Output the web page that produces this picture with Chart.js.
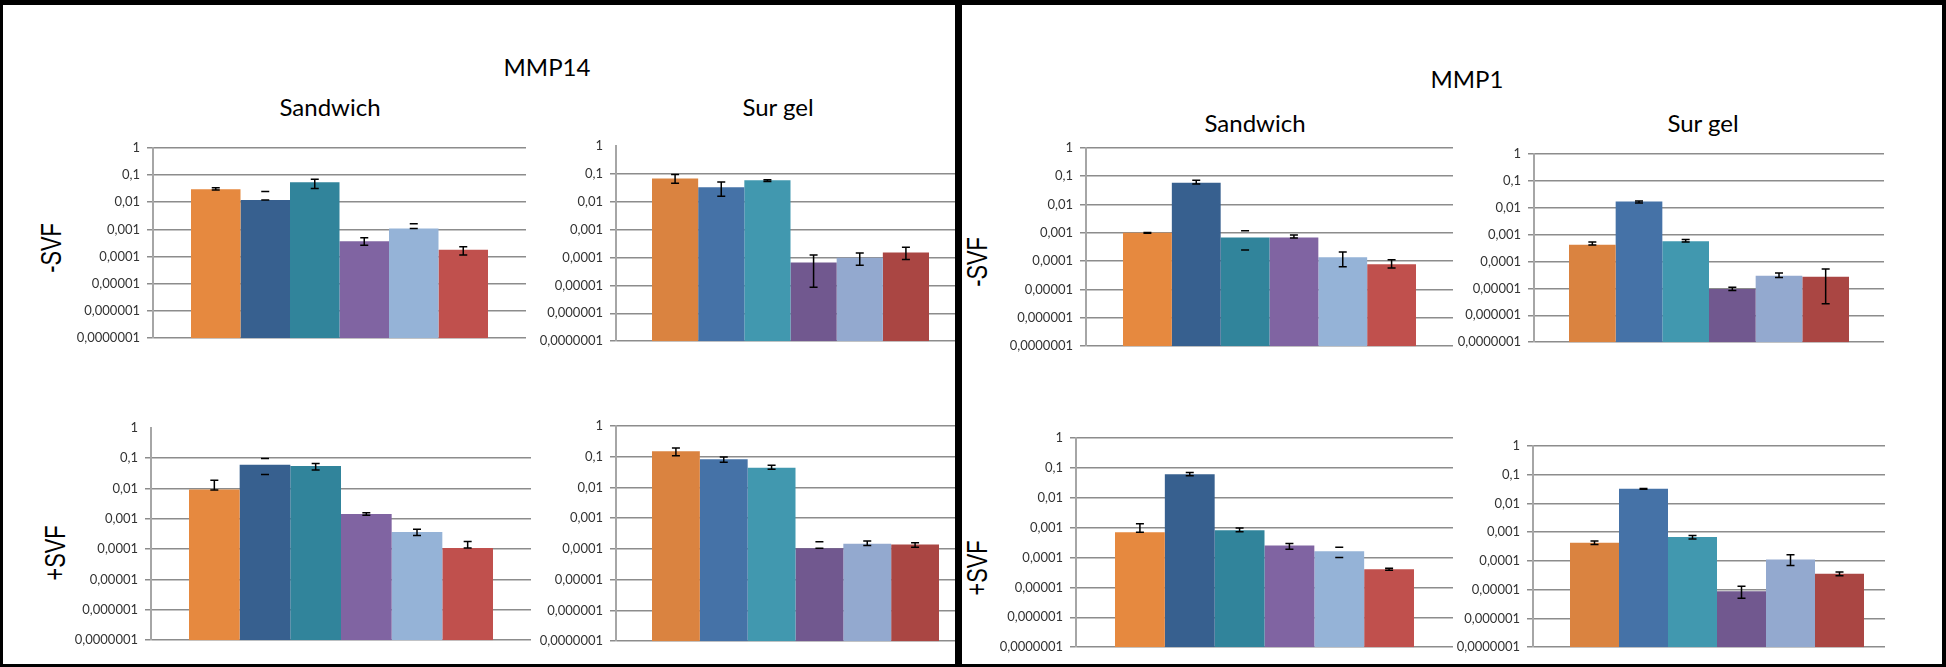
<!DOCTYPE html>
<html>
<head>
<meta charset="utf-8">
<script src="https://cdn.jsdelivr.net/npm/chart.js@4.4.1/dist/chart.umd.min.js"></script>
<style>
  body { margin: 0; width: 1946px; height: 667px; background: #fff; position: relative; overflow: hidden; font-family: Lato, "Open Sans", sans-serif; }
  .clip { position: absolute; overflow: hidden; }
  .clip canvas { position: absolute; left: 0; top: 0; }
  .title { position: absolute; transform: translate(-50%, -50%); font-size: 24px; color: #000; white-space: nowrap; }
  .side { position: absolute; font-family: "Liberation Sans", Arial, sans-serif; font-size: 29px; color: #000; white-space: nowrap;
          transform: translate(-50%, -50%) rotate(-90deg) scaleX(0.75); }
  .edge { position: absolute; background: #000; z-index: 5; }
</style>
</head>
<body>

<div class="title" style="left:547px;top:66px">MMP14</div>
<div class="title" style="left:330px;top:106px">Sandwich</div>
<div class="title" style="left:778px;top:106px">Sur gel</div>
<div class="title" style="left:1467px;top:78px">MMP1</div>
<div class="title" style="left:1255px;top:122px">Sandwich</div>
<div class="title" style="left:1703px;top:122px">Sur gel</div>

<div class="side" style="left:51px;top:248px">-SVF</div>
<div class="side" style="left:55px;top:553px">+SVF</div>
<div class="side" style="left:977px;top:262px">-SVF</div>
<div class="side" style="left:977px;top:568px">+SVF</div>

<div class="edge" style="left:0;top:0;width:1946px;height:5px"></div>
<div class="edge" style="left:0;top:664px;width:1946px;height:3px"></div>
<div class="edge" style="left:0;top:0;width:3px;height:667px"></div>
<div class="edge" style="left:955px;top:0;width:7px;height:667px"></div>
<div class="edge" style="left:1942px;top:0;width:4px;height:667px"></div>

<script>
// axe log commun
const tickValues = [1, 0.1, 0.01, 0.001, 0.0001, 0.00001, 0.000001, 0.0000001];
const tickLabels = ["1", "0,1", "0,01", "0,001", "0,0001", "0,00001", "0,000001", "0,0000001"];
const seriesNames = ["Série 1", "Série 2", "Série 3", "Série 4", "Série 5", "Série 6"];

// MMP14 - Sandwich - SVF
const mmp14SandMinus = [0.03, 0.012, 0.054, 0.00037, 0.00107, 0.000178];
const mmp14SandMinusLow = [0.028, 0.012, 0.032, 0.00026, 0.00107, 0.000115];
const mmp14SandMinusHigh = [0.034, 0.0245, 0.07, 0.00049, 0.00163, 0.00023];
// MMP14 - Sur gel - SVF
const mmp14GelMinus = [0.068, 0.033, 0.058, 0.000066, 0.0000977, 0.000152];
const mmp14GelMinusLow = [0.046, 0.0156, 0.053, 0.0000086, 0.000053, 0.000085];
const mmp14GelMinusHigh = [0.093, 0.051, 0.061, 0.000123, 0.000145, 0.00023];
// MMP14 - Sandwich + SVF
const mmp14SandPlus = [0.0093, 0.06, 0.055, 0.00144, 0.00037, 0.00011];
const mmp14SandPlusLow = [0.0089, 0.029, 0.041, 0.0013, 0.00028, 0.00011];
const mmp14SandPlusHigh = [0.0187, 0.098, 0.066, 0.0016, 0.00045, 0.000179];
// MMP14 - Sur gel + SVF
const mmp14GelPlus = [0.149, 0.082, 0.043, 0.000105, 0.000148, 0.000138];
const mmp14GelPlusLow = [0.107, 0.065, 0.039, 0.000105, 0.000128, 0.000113];
const mmp14GelPlusHigh = [0.19, 0.097, 0.052, 0.00017, 0.000179, 0.000158];
// MMP1 - Sandwich - SVF
const mmp1SandMinus = [0.001, 0.059, 0.00069, 0.00069, 0.000138, 0.000078];
const mmp1SandMinusLow = [0.00097, 0.053, 0.00025, 0.00066, 0.000064, 0.000057];
const mmp1SandMinusHigh = [0.00103, 0.072, 0.00118, 0.00083, 0.00021, 0.000112];
// MMP1 - Sur gel - SVF
const mmp1GelMinus = [0.00042, 0.017, 0.00056, 0.0000094, 0.0000293, 0.000027];
const mmp1GelMinusLow = [0.00041, 0.0148, 0.00053, 0.0000083, 0.0000256, 0.0000027];
const mmp1GelMinusHigh = [0.00053, 0.0177, 0.00065, 0.000011, 0.0000372, 0.0000522];
// MMP1 - Sandwich + SVF
const mmp1SandPlus = [0.00069, 0.061, 0.00081, 0.00025, 0.000162, 0.0000407];
const mmp1SandPlusLow = [0.00069, 0.054, 0.00072, 0.000187, 0.0001, 0.0000372];
const mmp1SandPlusHigh = [0.00133, 0.069, 0.00096, 0.00029, 0.00022, 0.0000437];
// MMP1 - Sur gel + SVF
const mmp1GelPlus = [0.00043, 0.032, 0.00068, 0.0000088, 0.000112, 0.0000355];
const mmp1GelPlusLow = [0.00037, 0.031, 0.00058, 0.000005, 0.000069, 0.0000305];
const mmp1GelPlusHigh = [0.00049, 0.033, 0.00077, 0.0000132, 0.000163, 0.0000414];

const colorsSandwich = ["#E6893F", "#37608F", "#31849B", "#8064A2", "#95B3D7", "#C0504D"];
const colorsGel = ["#DA8340", "#4572A7", "#4198AF", "#71588F", "#93A9CF", "#AA4643"];

// barres d'erreur (certaines n'ont que les traits horizontaux dans l'original)
const errorBars = {
  id: "errorBars",
  afterDatasetsDraw(chart) {
    const ctx = chart.ctx;
    const y = chart.scales.y;
    ctx.save();
    ctx.strokeStyle = "#000";
    ctx.lineWidth = 1.5;
    chart.data.datasets.forEach((ds, i) => {
      const bar = chart.getDatasetMeta(i).data[0];
      const yl = y.getPixelForValue(ds.errLow);
      const yh = y.getPixelForValue(ds.errHigh);
      ctx.beginPath();
      if (!ds.capsOnly) { ctx.moveTo(bar.x, yl); ctx.lineTo(bar.x, yh); }
      ctx.moveTo(bar.x - 4, yl); ctx.lineTo(bar.x + 4, yl);
      ctx.moveTo(bar.x - 4, yh); ctx.lineTo(bar.x + 4, yh);
      ctx.stroke();
    });
    ctx.restore();
  }
};

const yW = 80, padT = 10, padB = 10;

function makeChart(box, values, low, high, colors, topGrid, capsOnly) {
  const plotW = box.barL + box.barR - 2 * box.axisX;
  const w = yW + plotW;
  const h = box.bottom - box.top + padT + padB;
  const clip = document.createElement("div");
  clip.className = "clip";
  clip.style.left = (box.axisX - yW) + "px";
  clip.style.top = (box.top - padT) + "px";
  clip.style.width = (box.gridEnd - box.axisX + yW + 1) + "px";
  clip.style.height = h + "px";
  const canvas = document.createElement("canvas");
  canvas.width = w; canvas.height = h;
  canvas.style.width = w + "px"; canvas.style.height = h + "px";
  clip.appendChild(canvas);
  document.body.appendChild(clip);

  new Chart(canvas, {
    type: "bar",
    data: {
      labels: [""],
      datasets: values.map((v, i) => ({
        label: seriesNames[i],
        data: [v],
        errLow: low[i],
        errHigh: high[i],
        capsOnly: (capsOnly || []).includes(i),
        backgroundColor: colors[i]
      }))
    },
    options: {
      responsive: false,
      animation: false,
      devicePixelRatio: 1,
      layout: { padding: { top: padT, bottom: padB, left: 0, right: 0 } },
      categoryPercentage: (box.barR - box.barL) / plotW,
      barPercentage: 1,
      plugins: { legend: { display: false }, tooltip: { enabled: false } },
      scales: {
        x: { display: false },
        y: {
          type: "logarithmic",
          min: 0.0000001,
          max: 1,
          afterBuildTicks: s => { s.ticks = tickValues.map(v => ({ value: v })); },
          afterFit: s => { s.width = yW; },
          border: { color: "#a6a6a6", width: 2 },
          grid: {
            color: c => (!topGrid && c.tick && c.tick.value === 1) ? "rgba(0,0,0,0)" : "#8c8c8c",
            lineWidth: 1.5,
            tickLength: 6
          },
          ticks: {
            autoSkip: false,
            padding: 7,
            color: "#333",
            font: { family: "Lato", size: 13 },
            callback: v => tickLabels[tickValues.indexOf(v)]
          }
        }
      }
    },
    plugins: [errorBars]
  });
}

makeChart({ axisX: 153, top: 143, bottom: 343, barL: 191, barR: 488, gridEnd: 527 },
  mmp14SandMinus, mmp14SandMinusLow, mmp14SandMinusHigh, colorsSandwich, true, [1, 4]);
makeChart({ axisX: 616, top: 141, bottom: 346, barL: 652, barR: 929, gridEnd: 955 },
  mmp14GelMinus, mmp14GelMinusLow, mmp14GelMinusHigh, colorsGel, false);
makeChart({ axisX: 151, top: 423, bottom: 645, barL: 189, barR: 493, gridEnd: 532 },
  mmp14SandPlus, mmp14SandPlusLow, mmp14SandPlusHigh, colorsSandwich, false, [1]);
makeChart({ axisX: 616, top: 421, bottom: 646, barL: 652, barR: 939, gridEnd: 955 },
  mmp14GelPlus, mmp14GelPlusLow, mmp14GelPlusHigh, colorsGel, true, [3]);
makeChart({ axisX: 1086, top: 143, bottom: 351, barL: 1123, barR: 1416, gridEnd: 1453 },
  mmp1SandMinus, mmp1SandMinusLow, mmp1SandMinusHigh, colorsSandwich, true, [2]);
makeChart({ axisX: 1534, top: 149, bottom: 347, barL: 1569, barR: 1849, gridEnd: 1883 },
  mmp1GelMinus, mmp1GelMinusLow, mmp1GelMinusHigh, colorsGel, true);
makeChart({ axisX: 1076, top: 433, bottom: 652, barL: 1115, barR: 1414, gridEnd: 1452 },
  mmp1SandPlus, mmp1SandPlusLow, mmp1SandPlusHigh, colorsSandwich, true, [4]);
makeChart({ axisX: 1533, top: 441, bottom: 652, barL: 1570, barR: 1864, gridEnd: 1884 },
  mmp1GelPlus, mmp1GelPlusLow, mmp1GelPlusHigh, colorsGel, true);
</script>
</body>
</html>
